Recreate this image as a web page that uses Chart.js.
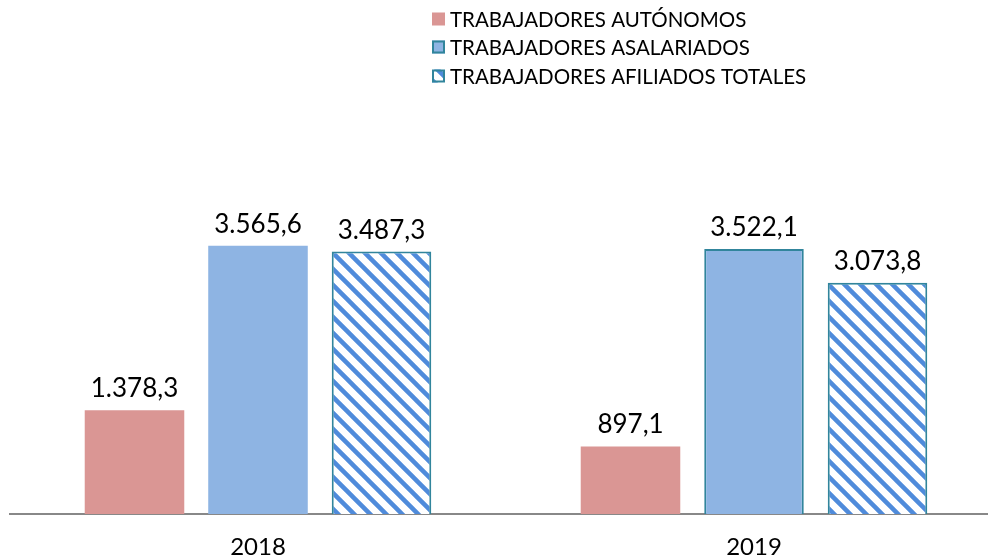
<!DOCTYPE html>
<html>
<head>
<meta charset="utf-8">
<script src="https://cdn.jsdelivr.net/npm/chart.js@4.4.1/dist/chart.umd.min.js"></script>
<style>
  html, body { margin: 0; padding: 0; background: #fff; overflow: hidden; }
  #wrap { position: relative; width: 1002px; height: 557px; }
</style>
</head>
<body>
<div id="wrap"><canvas id="c" width="1002" height="557"></canvas></div>
<script>
const categories = ['2018', '2019'];
const seriesNames = ['TRABAJADORES AUTÓNOMOS', 'TRABAJADORES ASALARIADOS', 'TRABAJADORES AFILIADOS TOTALES'];
const autonomos = [1378.3, 897.1];
const asalariados = [3565.6, 3522.1];
const totales = [3487.3, 3073.8];

const FONT = 'Lato, "Open Sans", sans-serif';

function hatchPattern() {
  const s = 16;
  const c = document.createElement('canvas');
  c.width = s; c.height = s;
  const g = c.getContext('2d');
  g.fillStyle = '#ffffff';
  g.fillRect(0, 0, s, s);
  g.strokeStyle = '#4F8BDB';
  g.lineWidth = 4.5;
  g.lineCap = 'square';
  g.beginPath();
  g.moveTo(-s, -s); g.lineTo(2 * s, 2 * s);
  g.moveTo(-s, 0); g.lineTo(s, 2 * s);
  g.moveTo(0, -s); g.lineTo(2 * s, s);
  g.stroke();
  return g.createPattern(c, 'repeat');
}
const hatch = hatchPattern();

function fmt(v) {
  const parts = v.toFixed(1).split('.');
  const int = parts[0].replace(/\B(?=(\d{3})+(?!\d))/g, '.');
  return int + ',' + parts[1];
}

const labelPlugin = {
  id: 'valueLabels',
  afterDatasetsDraw(chart) {
    const ctx = chart.ctx;
    ctx.save();
    ctx.font = '26px ' + FONT;
    ctx.fillStyle = '#000';
    ctx.textAlign = 'center';
    ctx.textBaseline = 'alphabetic';
    chart.data.datasets.forEach((ds, di) => {
      const meta = chart.getDatasetMeta(di);
      meta.data.forEach((el, i) => {
        ctx.fillText(fmt(ds.data[i]), el.x, el.y - 13);
      });
    });
    ctx.restore();
  }
};

const legendPlugin = {
  id: 'customLegend',
  afterDraw(chart) {
    const ctx = chart.ctx;
    ctx.save();
    const x0 = 432, ys = [19, 47, 76];
    ctx.font = '20.5px ' + FONT;
    ctx.textBaseline = 'middle';
    ctx.textAlign = 'left';
    chart.data.datasets.forEach((ds, i) => {
      const y = ys[i];
      const sz = 13;
      ctx.fillStyle = ds.legendFill;
      ctx.fillRect(x0, y - sz / 2, sz, sz);
      if (ds.legendBorder) {
        ctx.strokeStyle = ds.legendBorder;
        ctx.lineWidth = 2;
        ctx.strokeRect(x0 + 1, y - sz / 2 + 1, sz - 2, sz - 2);
      }
      ctx.fillStyle = '#000';
      ctx.fillText(ds.label, 450, y + 1);
    });
    ctx.restore();
  }
};

new Chart(document.getElementById('c'), {
  type: 'bar',
  data: {
    labels: categories,
    datasets: [
      {
        label: seriesNames[0], data: autonomos,
        backgroundColor: '#DA9694', borderColor: '#DA9694', borderWidth: 0,
        legendFill: '#DA9694'
      },
      {
        label: seriesNames[1], data: asalariados,
        backgroundColor: '#8EB4E3', borderColor: ['#8EB4E3', '#31859C'], borderWidth: [0, 2],
        legendFill: '#8EB4E3', legendBorder: '#31859C'
      },
      {
        label: seriesNames[2], data: totales,
        backgroundColor: hatch, borderColor: '#31859C', borderWidth: 2,
        legendFill: hatch, legendBorder: '#31859C'
      }
    ]
  },
  options: {
    responsive: false,
    animation: false,
    devicePixelRatio: 1,
    layout: { padding: { top: 213, left: 10, right: 0, bottom: 0 } },
    categoryPercentage: 0.747,
    barPercentage: 0.806,
    plugins: { legend: { display: false }, tooltip: { enabled: false } },
    scales: {
      x: {
        grid: { display: false, drawTicks: false },
        border: { display: true, color: '#888888', width: 2 },
        ticks: { color: '#000', font: { family: FONT, size: 24 }, padding: 19 },
        afterFit(scale) { scale.height = 43; }
      },
      y: {
        display: false,
        min: 0, max: 4000
      }
    }
  },
  plugins: [labelPlugin, legendPlugin]
});
</script>
</body>
</html>
